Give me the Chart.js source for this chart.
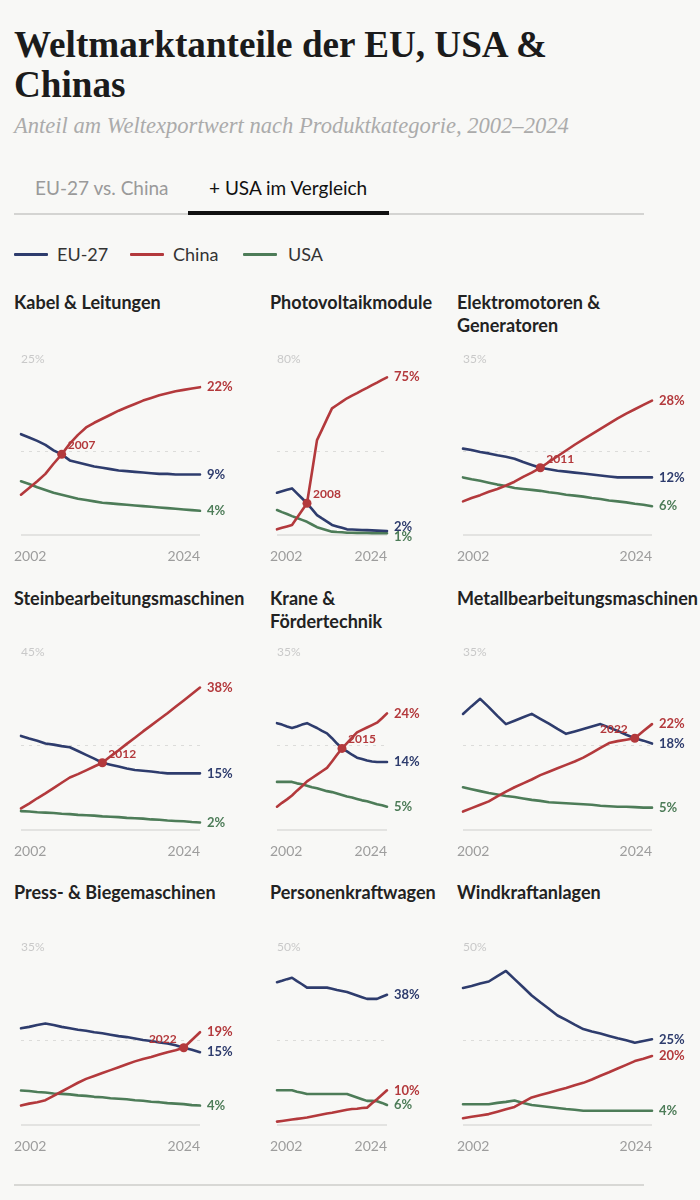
<!DOCTYPE html>
<html><head><meta charset="utf-8">
<script src="https://cdn.jsdelivr.net/npm/chart.js@4.4.1/dist/chart.umd.min.js"></script>
<style>
html,body{margin:0;padding:0;background:#f8f8f6;}
body{width:700px;height:1200px;position:relative;overflow:hidden;font-family:Lato,"Open Sans",sans-serif;}
.abs{position:absolute;white-space:nowrap;}
#title{left:14px;top:25px;font-family:"Liberation Serif",serif;font-weight:700;font-size:36px;line-height:40px;color:#1b1b1b;}
#sub{left:14px;top:114px;font-family:"Liberation Serif",serif;font-style:italic;font-size:19px;line-height:24px;color:#ababab;}
.tab{top:177px;font-size:19px;line-height:22.8px;}
.leg{top:244px;font-size:18px;line-height:21.6px;color:#333;}
.legline{top:253px;width:34px;height:3px;border-radius:1px;}
.ptitle{font-weight:700;font-size:18px;line-height:23px;color:#222;white-space:pre;}
canvas{position:absolute;}
</style></head>
<body>
<div id="title" class="abs"><span id="t1">Weltmarktanteile der EU, USA &amp;</span><br>Chinas</div>
<div id="sub" class="abs"><span id="s1">Anteil am Weltexportwert nach Produktkategorie, 2002–2024</span></div>
<div class="abs tab" style="left:35px;color:#9a9a9a;">EU-27 vs. China</div>
<div class="abs tab" style="left:209px;color:#111;">+ USA im Vergleich</div>
<div class="abs" style="left:14px;top:213px;width:630px;height:1.5px;background:#d4d4d2;"></div>
<div class="abs" style="left:188px;top:211px;width:201px;height:3.5px;background:#111;"></div>
<div class="abs legline" style="left:14px;background:#2e3c6d;"></div>
<div class="abs leg" style="left:57px;">EU-27</div>
<div class="abs legline" style="left:130px;background:#b3393c;"></div>
<div class="abs leg" style="left:173px;">China</div>
<div class="abs legline" style="left:243px;background:#4d7c58;"></div>
<div class="abs leg" style="left:288px;">USA</div>
<div class="abs" style="left:14px;top:1184px;width:630px;height:2px;background:#d8d8d5;"></div>
<div id="panels"></div>
<script>
// ---------------- DATA ----------------
const years = [2002,2003,2004,2005,2006,2007,2008,2009,2010,2011,2012,2013,2014,2015,2016,2017,2018,2019,2020,2021,2022,2023,2024];
const seriesNames = ['EU-27','China','USA'];

const kabelEU = [15.0,14.5,14.0,13.4,12.6,12.0,11.1,10.8,10.5,10.2,10.0,9.8,9.6,9.5,9.4,9.3,9.2,9.1,9.1,9.0,9.0,9.0,9.0];
const kabelCN = [6.0,7.0,8.0,9.1,10.6,12.0,13.6,14.9,16.0,16.7,17.3,17.9,18.5,19.0,19.5,20.0,20.4,20.8,21.1,21.4,21.6,21.8,22.0];
const kabelUS = [8.0,7.6,7.1,6.7,6.3,6.0,5.7,5.4,5.2,5.0,4.8,4.7,4.6,4.5,4.4,4.3,4.2,4.1,4.0,3.9,3.8,3.7,3.6];

const pvEU = [20.1,20.8,21.5,22.2,19.8,17.5,15.1,12.3,9.5,7.9,6.4,4.8,4.1,3.4,2.7,2.6,2.5,2.4,2.3,2.2,2.1,2.0,1.9];
const pvCN = [2.7,3.4,4.1,4.8,8.2,11.7,15.1,30.0,45.2,50.2,55.3,60.3,61.9,63.5,65.1,66.4,67.6,68.9,70.1,71.4,72.6,73.9,75.1];
const pvUS = [11.9,10.9,10.0,9.0,8.1,7.2,6.3,5.0,3.7,3.0,2.3,1.6,1.4,1.3,1.1,1.1,1.0,1.0,1.0,0.9,0.9,0.8,0.8];

const motorEU = [18.0,17.7,17.3,17.0,16.6,16.3,15.9,15.2,14.6,14.0,13.7,13.4,13.2,13.0,12.8,12.6,12.4,12.2,12.0,12.0,12.0,12.0,12.0];
const motorCN = [7.0,7.7,8.3,9.0,9.6,10.3,11.1,12.1,13.0,14.0,15.2,16.4,17.6,18.8,19.9,21.0,22.1,23.2,24.3,25.3,26.2,27.1,28.0];
const motorUS = [12.0,11.6,11.3,10.9,10.5,10.2,9.8,9.6,9.4,9.2,8.9,8.7,8.4,8.2,8.0,7.7,7.5,7.2,7.0,6.8,6.5,6.3,6.0];

const steinEU = [24.9,24.2,23.6,22.9,22.6,22.2,21.9,20.9,19.9,18.9,17.8,17.3,16.8,16.3,15.9,15.7,15.5,15.2,15.0,15.0,15.0,15.0,15.0];
const steinCN = [5.7,7.0,8.4,9.7,11.1,12.5,13.9,14.8,15.8,16.8,17.8,19.5,21.1,22.8,24.4,26.1,27.7,29.3,30.9,32.6,34.3,36.0,37.7];
const steinUS = [5.0,4.9,4.7,4.6,4.5,4.3,4.2,4.0,3.9,3.8,3.6,3.5,3.4,3.2,3.1,3.0,2.8,2.7,2.5,2.4,2.3,2.1,2.0];

const kraneEU = [22.0,21.7,21.3,21.0,21.3,21.7,22.0,21.5,21.0,20.4,19.9,18.9,17.8,16.8,16.2,15.5,14.9,14.6,14.3,14.1,14.0,14.0,14.0];
const kraneCN = [4.8,5.6,6.3,7.1,8.1,9.0,10.0,10.7,11.4,12.1,12.8,14.1,15.5,16.8,17.9,19.0,20.1,20.6,21.1,21.6,22.1,23.0,24.0];
const kraneUS = [9.9,9.9,9.9,9.9,9.6,9.4,9.1,8.8,8.6,8.3,8.0,7.8,7.5,7.2,6.9,6.7,6.4,6.1,5.9,5.6,5.3,5.1,4.8];

const metallEU = [23.9,25.5,27.0,25.3,23.5,21.8,22.5,23.2,23.9,22.9,21.9,20.8,19.8,20.3,20.8,21.3,21.8,21.1,20.4,19.6,18.9,18.4,17.8];
const metallCN = [3.8,4.5,5.2,5.9,6.9,7.9,8.8,9.6,10.4,11.3,12.0,12.7,13.4,14.1,14.9,15.9,16.9,17.9,18.3,18.6,18.9,20.4,21.8];
const metallUS = [8.8,8.4,8.0,7.6,7.3,7.0,6.8,6.5,6.2,6.0,5.7,5.6,5.5,5.4,5.3,5.2,5.0,4.9,4.8,4.8,4.7,4.6,4.6];

const pressEU = [19.9,20.2,20.6,20.9,20.6,20.2,19.9,19.6,19.4,19.1,18.9,18.6,18.3,18.1,17.8,17.5,17.3,17.0,16.8,16.4,15.9,15.5,15.0];
const pressCN = [4.0,4.4,4.7,5.1,6.0,6.9,7.8,8.7,9.5,10.1,10.7,11.3,11.9,12.5,13.1,13.6,14.0,14.5,15.0,15.4,15.9,17.5,19.1];
const pressUS = [7.1,7.0,6.8,6.7,6.5,6.4,6.3,6.1,6.0,5.8,5.7,5.5,5.4,5.3,5.1,5.0,4.8,4.7,4.5,4.4,4.3,4.1,4.0];

const pkwEU = [42.0,42.4,42.9,43.3,42.3,41.4,40.4,40.4,40.4,40.4,40.4,40.1,39.7,39.4,39.1,38.6,38.1,37.6,37.1,37.1,37.1,37.7,38.3];
const pkwCN = [1.0,1.2,1.4,1.6,1.8,2.0,2.2,2.5,2.8,3.1,3.4,3.6,3.9,4.2,4.5,4.7,4.8,5.0,5.1,6.4,7.6,8.9,10.2];
const pkwUS = [10.2,10.2,10.2,10.2,9.8,9.5,9.1,9.1,9.1,9.1,9.1,9.1,9.1,9.1,9.1,8.6,8.1,7.6,7.1,7.1,7.0,6.5,5.9];

const windEU = [40.3,40.9,41.6,42.2,43.8,45.3,42.9,40.5,38.1,36.1,34.2,32.2,30.9,29.5,28.2,27.5,26.9,26.2,25.5,24.9,24.2,24.7,25.2];
const windCN = [2.0,2.4,2.8,3.2,3.9,4.6,5.3,6.7,8.1,8.8,9.5,10.2,10.9,11.7,12.4,13.4,14.5,15.5,16.6,17.7,18.8,19.5,20.3];
const windUS = [6.1,6.1,6.1,6.1,6.5,6.8,7.2,6.5,5.9,5.6,5.3,5.0,4.7,4.5,4.2,4.2,4.2,4.2,4.2,4.2,4.2,4.2,4.2];

const panelTitles = ['Kabel & Leitungen','Photovoltaikmodule','Elektromotoren &\nGeneratoren',
  'Steinbearbeitungsmaschinen','Krane &\nFördertechnik','Metallbearbeitungsmaschinen',
  'Press- & Biegemaschinen','Personenkraftwagen','Windkraftanlagen'];
const panelMax = [25,80,35,45,35,35,35,50,50];
const crossYears = [2007,2008,2011,2012,2015,2022,2022,null,null];
const panelSeries = [
  [kabelEU,kabelCN,kabelUS],[pvEU,pvCN,pvUS],[motorEU,motorCN,motorUS],
  [steinEU,steinCN,steinUS],[kraneEU,kraneCN,kraneUS],[metallEU,metallCN,metallUS],
  [pressEU,pressCN,pressUS],[pkwEU,pkwCN,pkwUS],[windEU,windCN,windUS]
];

// ---------------- STYLE / LAYOUT ----------------
const colors = ['#2e3c6d','#b3393c','#4d7c58'];
const colLeft = [14,270,457];
const plotOff = [7,7,6];
const plotW = [179,110,189];
const rowPlotTop = [367,660,955];
const plotH = [168,170,170];
const titleTop = [291,587,881];
const padTop = 24, padBottom = 36, padRight = 48;

function fitWidth(spanId, boxId, target){
  const s = document.getElementById(spanId), b = document.getElementById(boxId);
  const fs = parseFloat(getComputedStyle(b).fontSize);
  const w = s.getBoundingClientRect().width;
  if (w > 0) b.style.fontSize = (fs * target / w) + 'px';
}
fitWidth('t1','title',533);
fitWidth('s1','sub',555);

function spread(items, minGap){
  items.sort((a,b)=>a.y-b.y);
  for(let it=0; it<30; it++){
    let moved=false;
    for(let i=1;i<items.length;i++){
      const d = items[i].y - items[i-1].y;
      if(d < minGap){const s=(minGap-d)/2; items[i].y+=s; items[i-1].y-=s; moved=true;}
    }
    if(!moved) break;
  }
}

const decor = {
  id:'decor',
  beforeDatasetsDraw(chart){
    const {ctx, chartArea:a, scales:{x,y}} = chart;
    const p = chart.options.plugins.decor;
    ctx.save();
    const y0 = y.getPixelForValue(0);
    ctx.strokeStyle = '#dcdcda'; ctx.lineWidth = 1.5;
    ctx.beginPath(); ctx.moveTo(a.left, y0); ctx.lineTo(a.right, y0); ctx.stroke();
    const ym = Math.round(y.getPixelForValue(p.max/2)) + 0.5;
    ctx.setLineDash([3,5]); ctx.strokeStyle = '#dcdcda'; ctx.lineWidth = 1;
    ctx.beginPath(); ctx.moveTo(a.left, ym); ctx.lineTo(a.right, ym); ctx.stroke();
    ctx.setLineDash([]);
    ctx.textBaseline = 'middle';
    ctx.font = '12px Lato'; ctx.fillStyle = '#c9c9c9'; ctx.textAlign = 'left';
    ctx.fillText(p.max + '%', a.left, y.getPixelForValue(p.max) - 8);
    ctx.font = '14px Lato'; ctx.fillStyle = '#9d9d9d';
    ctx.fillText(String(years[0]), 0, y0 + 21);
    ctx.textAlign = 'right';
    ctx.fillText(String(years[years.length-1]), a.right, y0 + 21);
    ctx.restore();
  },
  afterDatasetsDraw(chart){
    const {ctx, chartArea:a, scales:{x,y}} = chart;
    const p = chart.options.plugins.decor;
    ctx.save();
    ctx.textBaseline = 'middle'; ctx.textAlign = 'left';
    ctx.font = 'bold 13px Lato';
    const items = p.series.map((s,i)=>({y:y.getPixelForValue(s[s.length-1]), t:Math.round(s[s.length-1])+'%', c:colors[i]}));
    spread(items, 10);
    items.forEach(it=>{ ctx.fillStyle = it.c; ctx.fillText(it.t, a.right + 7, it.y); });
    if (p.cross){
      const cx = x.getPixelForValue(p.cross.x), cy = y.getPixelForValue(p.cross.y);
      ctx.font = 'bold 12px Lato'; ctx.fillStyle = colors[1];
      if (p.cross.x > 2018){ ctx.textAlign = 'right'; ctx.fillText(String(p.cross.x), cx - 7, cy - 9); }
      else { ctx.textAlign = 'left'; ctx.fillText(String(p.cross.x), cx + 6, cy - 9); }
    }
    ctx.restore();
  }
};

const host = document.getElementById('panels');
panelSeries.forEach((series, k)=>{
  const col = k % 3, row = Math.floor(k / 3);
  const t = document.createElement('div');
  t.className = 'abs ptitle';
  t.style.left = colLeft[col] + 'px'; t.style.top = titleTop[row] + 'px';
  t.textContent = panelTitles[k];
  host.appendChild(t);

  const cv = document.createElement('canvas');
  const w = plotOff[col] + plotW[col] + padRight, h = padTop + plotH[row] + padBottom;
  cv.style.left = colLeft[col] + 'px'; cv.style.top = (rowPlotTop[row] - padTop) + 'px';
  cv.style.width = w + 'px'; cv.style.height = h + 'px';
  cv.width = w; cv.height = h;
  host.appendChild(cv);

  const order = [2,1,3];
  const datasets = series.map((s,i)=>({
    label: seriesNames[i],
    data: years.map((yr,j)=>({x:yr, y:s[j]})),
    borderColor: colors[i], borderWidth: 2.6, pointRadius: 0, tension: 0,
    borderJoinStyle:'round', borderCapStyle:'round', fill:false, order: order[i], clip:false
  }));
  let cross = null;
  if (crossYears[k] !== null){
    cross = {x: crossYears[k], y: series[1][crossYears[k] - years[0]]};
    datasets.push({label:'Schnittpunkt', data:[cross], showLine:false, pointRadius:4.5,
      pointBackgroundColor:colors[1], pointBorderWidth:0, order:0, clip:false});
  }
  new Chart(cv, {
    type:'line',
    data:{datasets},
    options:{
      responsive:false, animation:false, devicePixelRatio: window.devicePixelRatio || 1,
      layout:{padding:{left:plotOff[col], right:padRight, top:padTop, bottom:padBottom}},
      scales:{
        x:{type:'linear', min:years[0], max:years[years.length-1], display:false},
        y:{min:0, max:panelMax[k], display:false}
      },
      plugins:{legend:{display:false}, tooltip:{enabled:false},
        decor:{max:panelMax[k], series, cross}}
    },
    plugins:[decor]
  });
});
</script>
</body></html>
